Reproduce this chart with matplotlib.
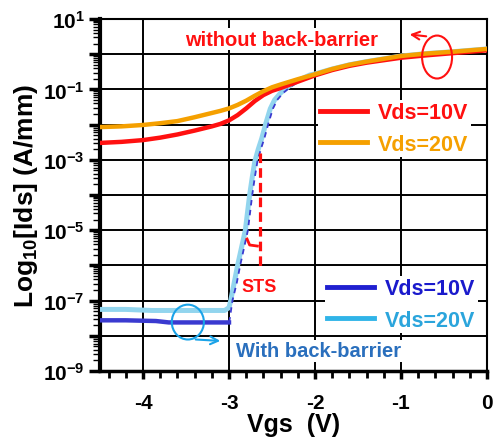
import numpy as np
import matplotlib
matplotlib.use("Agg")
import matplotlib.pyplot as plt
from matplotlib.patches import Ellipse
from matplotlib.lines import Line2D
from matplotlib.ticker import LogLocator, NullFormatter

plt.rcParams['font.family'] = ['Liberation Sans', 'DejaVu Sans']
plt.rcParams['font.weight'] = 'bold'
plt.rcParams['mathtext.fontset'] = 'custom'
plt.rcParams['mathtext.rm'] = 'Liberation Sans:bold'
plt.rcParams['mathtext.it'] = 'Liberation Sans:bold'
plt.rcParams['mathtext.bf'] = 'Liberation Sans:bold'
plt.rcParams['mathtext.default'] = 'bf'
plt.rcParams['axes.unicode_minus'] = False

# without back-barrier (log10 of Ids in A/mm)
vgs_nobb = [-4.5, -4.25, -4.0, -3.8, -3.6, -3.4, -3.2, -3.1, -3.0, -2.9, -2.8, -2.7, -2.6, -2.5,
            -2.4, -2.2, -2.0, -1.8, -1.6, -1.4, -1.2, -1.0, -0.7, -0.4, -0.2, 0.0]
log_nobb_10v = [-2.52, -2.49, -2.44, -2.37, -2.28, -2.17, -2.05, -1.98, -1.88, -1.73, -1.54,
                -1.33, -1.16, -1.04, -0.96, -0.78, -0.60, -0.45, -0.33, -0.24, -0.17, -0.10,
                -0.03, 0.03, 0.07, 0.11]
log_nobb_20v = [-2.07, -2.05, -2.01, -1.96, -1.90, -1.79, -1.67, -1.61, -1.54, -1.44, -1.32,
                -1.18, -1.05, -0.94, -0.86, -0.71, -0.57, -0.42, -0.30, -0.21, -0.13, -0.05,
                0.02, 0.07, 0.11, 0.15]

# with back-barrier, Vds = 20 V
vgs_bb20 = [-4.5, -4.2, -3.9, -3.5, -3.05, -3.0, -2.98, -2.94, -2.9, -2.855, -2.81, -2.785,
            -2.76, -2.73, -2.70, -2.66, -2.62, -2.57, -2.52, -2.47, -2.40, -2.30, -2.2, -2.06,
            -2.0, -1.8, -1.6, -1.4, -1.2, -1.0, -0.7, -0.4, 0.0]
log_bb_20v = [-7.25, -7.25, -7.28, -7.28, -7.28, -7.2, -7.0, -6.5, -6.0, -5.5, -5.0, -4.5,
              -4.0, -3.5, -3.05, -2.7, -2.4, -1.95, -1.55, -1.30, -1.10, -0.90, -0.75, -0.59,
              -0.56, -0.42, -0.30, -0.21, -0.13, -0.05, 0.02, 0.07, 0.15]
# with back-barrier, Vds = 10 V (flat part solid, turn-on part dashed)
vgs_bb10 = [-4.5, -4.2, -3.85, -3.7, -3.0, -2.99, -2.96, -2.91, -2.87, -2.825, -2.78, -2.755,
            -2.73, -2.70, -2.67, -2.63, -2.59, -2.54, -2.49, -2.44, -2.37, -2.27, -2.17, -2.03]
log_bb_10v = [-7.56, -7.56, -7.58, -7.62, -7.62, -7.5, -7.0, -6.5, -6.0, -5.5, -5.0, -4.5,
              -4.0, -3.5, -3.05, -2.7, -2.4, -1.95, -1.55, -1.30, -1.10, -0.90, -0.75, -0.59]
n_flat = 5

# STS marker
sts_x = [-2.64, -2.64]
sts_log = [-2.8, -6.1]
hook_x = [-2.79, -2.76, -2.67]
hook_log = [-5.25, -5.42, -5.45]

xticks = [-4, -3, -2, -1, 0]
xtick_labels = ['-4', '-3', '-2', '-1', '0']
ydecades = list(range(-9, 2))
ylabel_decades = [1, -1, -3, -5, -7, -9]

RED = '#ff1010'
ORANGE = '#f5a000'
DBLUE = '#3a3ad0'
LBLUE = '#92d5ee'

fig = plt.figure(figsize=(4.98, 4.39), dpi=100)
ax = fig.add_axes([0.2008, 0.1526, 0.7771, 0.8018])

ax.plot(vgs_nobb, 10 ** np.array(log_nobb_10v), color=RED, lw=3.2, zorder=4)
ax.plot(vgs_nobb, 10 ** np.array(log_nobb_20v), color=ORANGE, lw=3.2, zorder=5)
ax.plot(vgs_bb20, 10 ** np.array(log_bb_20v), color=LBLUE, lw=3.6, zorder=3)
ax.plot(vgs_bb10[:n_flat], 10 ** np.array(log_bb_10v[:n_flat]), color=DBLUE, lw=3.2, zorder=3.5)
ax.plot(vgs_bb10[n_flat - 1:], 10 ** np.array(log_bb_10v[n_flat - 1:]), color=DBLUE, lw=1.3,
        ls=(0, (3, 2.5)), zorder=3.6)

ax.plot(sts_x, 10 ** np.array(sts_log), color=RED, lw=2.3, ls=(0, (3, 1.6)), zorder=6)
ax.plot(hook_x, 10 ** np.array(hook_log), color=RED, lw=2.0, zorder=6)

ax.set_yscale('log')
ax.set_xlim(-4.5, 0)
ax.set_ylim(1e-9, 1e1)
ax.set_xticks(xticks)
ax.set_xticklabels(xtick_labels)
ax.set_xticks(np.arange(-4.4, 0.01, 0.2), minor=True)
ax.set_yticks([10.0 ** d for d in ydecades])
ax.set_yticklabels([r'$10^{%d}$' % d if d in ylabel_decades else '' for d in ydecades])
ax.yaxis.set_minor_locator(LogLocator(base=10, subs=np.arange(2, 10), numticks=100))
ax.yaxis.set_minor_formatter(NullFormatter())
ax.tick_params(axis='both', which='major', labelsize=15, direction='out')
ax.tick_params(axis='y', which='major', length=8, width=2.5, pad=3)
ax.tick_params(axis='y', which='minor', length=5, width=1.0)
ax.tick_params(axis='x', which='major', length=6, width=2.5, pad=10)
ax.tick_params(axis='x', which='minor', length=5, width=2.0)
ax.grid(True, which='major', color='black', lw=1.4, zorder=1)
ax.set_axisbelow(True)
ax.spines['left'].set_linewidth(3)
ax.spines['bottom'].set_linewidth(2.5)
ax.spines['top'].set_linewidth(1.5)
ax.spines['right'].set_linewidth(1.5)

ax.set_xlabel('Vgs  (V)', fontsize=18, fontweight='bold', labelpad=0)
ax.set_ylabel(r'Log$_{10}$[Ids] (A/mm)', fontsize=19, fontweight='bold', labelpad=2)

# annotations
ax.text(0.468, 0.943, 'without back-barrier', color=RED, fontsize=14.5, fontweight='bold',
        ha='center', va='center', transform=ax.transAxes, zorder=7,
        bbox=dict(facecolor='white', edgecolor='none', pad=1))
ax.text(0.566, 0.057, 'With back-barrier', color='#2a6fbd', fontsize=14.5, fontweight='bold',
        ha='center', va='center', transform=ax.transAxes, zorder=7,
        bbox=dict(facecolor='white', edgecolor='none', pad=1))
ax.text(0.411, 0.241, 'STS', color=RED, fontsize=13, fontweight='bold',
        ha='center', va='center', transform=ax.transAxes, zorder=7)

ax.add_patch(Ellipse((0.871, 0.892), 0.0775, 0.122, transform=ax.transAxes,
                     fill=False, edgecolor=RED, lw=1.5, zorder=8))
ax.annotate('', xy=(0.793, 0.957), xytext=(0.850, 0.950), xycoords='axes fraction',
            arrowprops=dict(arrowstyle='->', color=RED, lw=1.5, mutation_scale=14), zorder=8)
ax.add_patch(Ellipse((0.227, 0.139), 0.083, 0.099, transform=ax.transAxes,
                     fill=False, edgecolor='#1aa3e8', lw=1.5, zorder=8))
ax.annotate('', xy=(0.318, 0.085), xytext=(0.240, 0.090), xycoords='axes fraction',
            arrowprops=dict(arrowstyle='->', color='#1aa3e8', lw=1.5, mutation_scale=14), zorder=8)

# legends
h1 = [Line2D([], [], color=RED, lw=3.5), Line2D([], [], color=ORANGE, lw=3.5)]
leg1 = ax.legend(h1, ['Vds=10V', 'Vds=20V'], loc='upper left', bbox_to_anchor=(0.563, 0.77),
                 frameon=True, fancybox=False, edgecolor='none', facecolor='white', framealpha=1,
                 borderpad=0.1, borderaxespad=0, handlelength=2.2, handletextpad=0.5,
                 labelspacing=0.5, prop={'weight': 'bold', 'size': 15.5},
                 labelcolor=[RED, ORANGE])
leg1.set_zorder(9)
ax.add_artist(leg1)
h2 = [Line2D([], [], color='#2020d0', lw=3.5), Line2D([], [], color='#30b4e8', lw=3.5)]
leg2 = ax.legend(h2, ['Vds=10V', 'Vds=20V'], loc='upper left', bbox_to_anchor=(0.581, 0.27),
                 frameon=True, fancybox=False, edgecolor='none', facecolor='white', framealpha=1,
                 borderpad=0.1, borderaxespad=0, handlelength=2.2, handletextpad=0.5,
                 labelspacing=0.5, prop={'weight': 'bold', 'size': 15.5},
                 labelcolor=['#1a1acc', '#2ba5dc'])
leg2.set_zorder(9)

fig.savefig('out.png', dpi=100)
